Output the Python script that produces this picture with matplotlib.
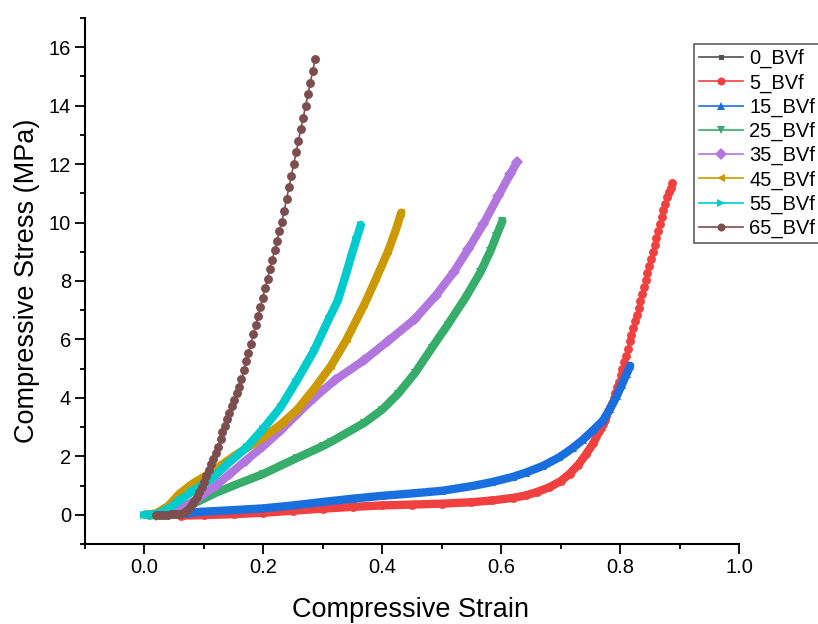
import matplotlib.pyplot as plt
from matplotlib.ticker import MultipleLocator

plt.rcParams["font.family"] = ["Liberation Sans", "DejaVu Sans"]

# strain / stress values
strain_0 = [0.0, 0.05, 0.10, 0.15, 0.20, 0.25, 0.274]
stress_0 = [0.0, 0.02, 0.06, 0.10, 0.15, 0.20, 0.23]

strain_5_low = [0.062, 0.10, 0.15, 0.20, 0.25, 0.30, 0.35, 0.40, 0.45, 0.50, 0.55,
                0.585, 0.62, 0.641, 0.66, 0.681, 0.70, 0.715, 0.73, 0.743, 0.755, 0.765]
stress_5_low = [-0.03, -0.01, 0.02, 0.07, 0.14, 0.21, 0.27, 0.32, 0.35, 0.38, 0.43,
                0.49, 0.58, 0.66, 0.78, 0.94, 1.15, 1.40, 1.72, 2.08, 2.45, 2.85]
strain_5_high = [0.768, 0.771, 0.774, 0.777, 0.780, 0.783, 0.786, 0.789, 0.792, 0.795,
                 0.798, 0.801, 0.804, 0.807, 0.810, 0.813, 0.816, 0.819, 0.822, 0.825,
                 0.828, 0.831, 0.834, 0.837, 0.840, 0.843, 0.846, 0.849, 0.852, 0.855,
                 0.858, 0.861, 0.864, 0.867, 0.870, 0.873, 0.876, 0.879, 0.882, 0.885, 0.888]
stress_5_high = [2.97, 3.11, 3.25, 3.39, 3.54, 3.69, 3.84, 3.99, 4.17, 4.36,
                 4.56, 4.77, 4.99, 5.22, 5.45, 5.69, 5.93, 6.16, 6.39, 6.62,
                 6.85, 7.08, 7.31, 7.55, 7.79, 8.03, 8.27, 8.51, 8.75, 8.99,
                 9.23, 9.47, 9.71, 9.95, 10.19, 10.42, 10.65, 10.87, 11.04, 11.19, 11.34]

strain_15 = [0.04, 0.07, 0.093, 0.15, 0.20, 0.25, 0.30, 0.35, 0.40, 0.45, 0.50, 0.55,
             0.585, 0.62, 0.641, 0.67, 0.698, 0.72, 0.737, 0.755, 0.771, 0.783, 0.794,
             0.803, 0.811, 0.817]
stress_15 = [0.0, 0.04, 0.10, 0.16, 0.22, 0.32, 0.44, 0.55, 0.65, 0.73, 0.82, 0.98,
             1.12, 1.30, 1.44, 1.67, 1.97, 2.28, 2.56, 2.90, 3.22, 3.62, 4.05,
             4.45, 4.82, 5.10]

strain_25 = [0.008, 0.03, 0.05, 0.07, 0.09, 0.12, 0.15, 0.20, 0.257, 0.30, 0.314, 0.37,
             0.40, 0.427, 0.455, 0.483, 0.51, 0.54, 0.565, 0.582, 0.592, 0.602]
stress_25 = [-0.03, 0.02, 0.10, 0.25, 0.45, 0.75, 1.00, 1.40, 1.95, 2.35, 2.50, 3.15,
             3.60, 4.15, 4.85, 5.70, 6.50, 7.43, 8.30, 9.03, 9.55, 10.05]

strain_35 = [0.02, 0.05, 0.07, 0.093, 0.12, 0.144, 0.17, 0.20, 0.23, 0.257, 0.285, 0.32,
             0.37, 0.41, 0.455, 0.49, 0.52, 0.545, 0.57, 0.595, 0.615, 0.627]
stress_35 = [0.0, 0.15, 0.30, 0.60, 1.00, 1.40, 1.85, 2.35, 2.90, 3.45, 4.00, 4.60,
             5.30, 5.95, 6.70, 7.50, 8.30, 9.10, 9.95, 10.90, 11.65, 12.08]

strain_45 = [0.0, 0.02, 0.04, 0.059, 0.08, 0.10, 0.116, 0.15, 0.20, 0.23, 0.257, 0.285,
             0.314, 0.34, 0.37, 0.39, 0.41, 0.422, 0.432]
stress_45 = [0.0, 0.05, 0.30, 0.72, 1.05, 1.30, 1.51, 2.00, 2.65, 3.10, 3.60, 4.30,
             5.10, 6.00, 7.20, 8.10, 9.03, 9.70, 10.34]

strain_55 = [0.0, 0.02, 0.04, 0.06, 0.08, 0.10, 0.116, 0.14, 0.172, 0.20, 0.229, 0.255,
             0.285, 0.31, 0.325, 0.34, 0.347, 0.356, 0.364]
stress_55 = [0.0, 0.02, 0.20, 0.50, 0.80, 1.05, 1.29, 1.75, 2.31, 2.95, 3.68, 4.55,
             5.61, 6.70, 7.32, 8.30, 8.80, 9.40, 9.92]

strain_65 = [0.020, 0.025, 0.030, 0.035, 0.040, 0.045, 0.050, 0.055, 0.060, 0.064,
             0.068, 0.072, 0.076, 0.080, 0.084, 0.088, 0.092, 0.096, 0.100, 0.104,
             0.108, 0.112, 0.116, 0.120, 0.124, 0.128, 0.131, 0.135, 0.139, 0.143,
             0.147, 0.151, 0.155, 0.159, 0.163, 0.167, 0.171, 0.175, 0.179, 0.183,
             0.187, 0.191, 0.195, 0.199, 0.203, 0.207, 0.211, 0.215, 0.219, 0.223,
             0.227, 0.231, 0.235, 0.239, 0.243, 0.247, 0.251, 0.255, 0.259, 0.263,
             0.267, 0.271, 0.275, 0.279, 0.283, 0.287]
stress_65 = [0.00, 0.00, 0.00, 0.00, 0.00, 0.01, 0.01, 0.02, 0.03, 0.06,
             0.11, 0.18, 0.26, 0.36, 0.48, 0.62, 0.79, 0.96, 1.13, 1.33,
             1.53, 1.73, 1.92, 2.12, 2.33, 2.60, 2.82, 3.04, 3.27, 3.49,
             3.72, 3.94, 4.16, 4.38, 4.63, 4.94, 5.25, 5.55, 5.86, 6.17,
             6.48, 6.79, 7.11, 7.43, 7.76, 8.08, 8.40, 8.73, 9.05, 9.38,
             9.70, 10.03, 10.40, 10.80, 11.20, 11.60, 12.00, 12.40, 12.80, 13.19,
             13.59, 13.99, 14.39, 14.79, 15.18, 15.58]

labels = ["0_BVf", "5_BVf", "15_BVf", "25_BVf", "35_BVf", "45_BVf", "55_BVf", "65_BVf"]
colors = ["#515151", "#F14040", "#1A6FDF", "#37AD6B", "#B177DE", "#CC9900", "#00CBCC", "#7D4E4E"]
markers = ["s", "o", "^", "v", "D", "<", ">", "o"]

fig = plt.figure(figsize=(8.18, 6.24), dpi=100)
ax = fig.add_axes([85 / 818, 80 / 624, 654 / 818, 526 / 624])

series = [
    (strain_0, stress_0, strain_0, stress_0, False),
    (strain_5_low + strain_5_high, stress_5_low + stress_5_high, strain_5_low, stress_5_low, True),
    (strain_15, stress_15, strain_15, stress_15, True),
    (strain_25, stress_25, strain_25, stress_25, True),
    (strain_35, stress_35, strain_35, stress_35, True),
    (strain_45, stress_45, strain_45, stress_45, True),
    (strain_55, stress_55, strain_55, stress_55, True),
    (strain_65, stress_65, strain_65, stress_65, False),
]

for i, (x, y, bx, by, band) in enumerate(series):
    if band:
        # dense markers in the original merge into a thick band
        ax.plot(bx, by, color=colors[i], lw=6.0, solid_capstyle="round", zorder=2 + i)
    ms = 4 if i == 0 else 6.4
    ax.plot(x, y, color=colors[i], lw=1.2, marker=markers[i], ms=ms,
            markeredgewidth=0, label=labels[i], zorder=2 + i)

ax.set_xlim(-0.1, 1.0)
ax.set_ylim(-1, 17)
ax.xaxis.set_major_locator(MultipleLocator(0.2))
ax.xaxis.set_minor_locator(MultipleLocator(0.1))
ax.yaxis.set_major_locator(MultipleLocator(2))
ax.yaxis.set_minor_locator(MultipleLocator(1))
ax.set_xticks([0.0, 0.2, 0.4, 0.6, 0.8, 1.0])
ax.set_xticklabels(["0.0", "0.2", "0.4", "0.6", "0.8", "1.0"])
ax.set_yticks([0, 2, 4, 6, 8, 10, 12, 14, 16])

for side in ["top", "right"]:
    ax.spines[side].set_visible(False)
for side in ["left", "bottom"]:
    ax.spines[side].set_linewidth(1.5)

ax.tick_params(which="major", direction="out", length=7, width=1.3, labelsize=14.5, pad=3)
ax.tick_params(which="minor", direction="out", length=3.8, width=1.3)

ax.set_xlabel("Compressive Strain", fontsize=19.5)
ax.set_ylabel("Compressive Stress (MPa)", fontsize=19.5)
ax.xaxis.set_label_coords(0.498, -0.10)
ax.yaxis.set_label_coords(-0.069, 0.5)

leg = fig.legend(loc="upper left", bbox_to_anchor=(694 / 818, 1 - 44 / 624),
                 fontsize=14.5, frameon=True, fancybox=False, handlelength=2.2,
                 handletextpad=0.3, labelspacing=0.25, borderpad=0.25,
                 borderaxespad=0, markerscale=0.9)
leg.get_frame().set_edgecolor("#333333")
leg.get_frame().set_linewidth(1.2)

fig.savefig("out.png", dpi=100)
plt.close(fig)
